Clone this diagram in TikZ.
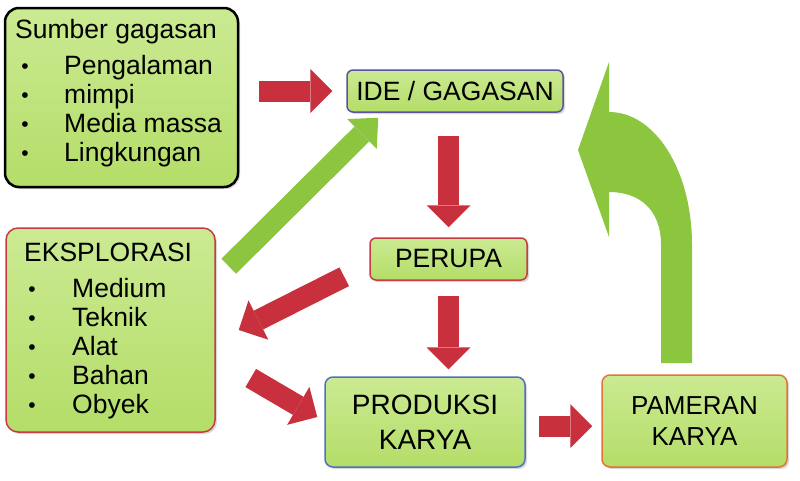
\documentclass[tikz,border=0pt]{standalone}
\usepackage{fontspec}
\setmainfont{Liberation Sans}
\usetikzlibrary{arrows.meta,calc,shadows}

\definecolor{boxgreen}{HTML}{B4DD68}
\definecolor{boxgreenlight}{HTML}{CBEA92}
\definecolor{arrowred}{HTML}{C8303E}
\definecolor{arrowgreen}{HTML}{8CC63F}
\definecolor{idepurple}{HTML}{5E52A0}
\definecolor{produksiblue}{HTML}{4F70C4}
\definecolor{pameranorange}{HTML}{E2743A}
\definecolor{boxred}{HTML}{C93A44}

\def\textsize{\fontsize{26.5}{29}\selectfont}

\begin{document}
\begin{tikzpicture}[x=1pt, y=-1pt,
  box/.style={rounded corners=6pt, line width=1.5pt, inner sep=0pt,
    top color=boxgreenlight, bottom color=boxgreen,
    drop shadow={opacity=0.3, shadow xshift=2pt, shadow yshift=-2pt},
    font=\textsize, align=center},
  redarrow/.style={arrowred, line width=21pt,
    -{Triangle[width=44pt,length=22pt,line width=0pt]}},
  greenarrow/.style={arrowgreen, line width=21pt,
    -{Triangle[width=42pt,length=23pt,line width=0pt]}},
  item/.style={anchor=base west, inner sep=0pt, font=\textsize},
  dot/.style={anchor=base, inner sep=0pt, font=\fontsize{21}{21}\selectfont}]
  \useasboundingbox (0,0) rectangle (800,480);

  % boxes
  \node[box, draw=black, line width=2.5pt, rounded corners=14pt, minimum width=233pt, minimum height=179pt] (sumber) at (121.5,97.5) {};
  \node[box, draw=boxred, rounded corners=12pt, minimum width=209pt, minimum height=204pt] (eksplor) at (110.5,330) {};
  \node[box, draw=idepurple, minimum width=216pt, minimum height=42pt] (ide) at (455,91) {IDE / GAGASAN};
  \node[box, draw=boxred, minimum width=157pt, minimum height=42pt] (perupa) at (448.5,259) {PERUPA};
  \node[box, draw=produksiblue, rounded corners=8pt, minimum width=200pt, minimum height=90pt,
    font=\fontsize{28}{35}\selectfont] (produksi) at (425,422) {PRODUKSI\\KARYA};
  \node[box, draw=pameranorange, rounded corners=8pt, minimum width=185pt, minimum height=92pt,
    font=\fontsize{26}{31}\selectfont] (pameran) at (694.5,421) {PAMERAN\\KARYA};

  % lists
  \node[item] (sumbertitle) at (15,38) {Sumber gagasan};
  \foreach \txt [count=\i] in {Pengalaman, mimpi, Media massa, Lingkungan}{
    \node[dot] (sdot\i) at (25,44+29*\i) {\textbullet};
    \node[item] (sitem\i) at (64,45+29*\i) {\txt};
  }
  \node[item] (eksplortitle) at (24,261) {EKSPLORASI};
  \foreach \txt [count=\i] in {Medium, Teknik, Alat, Bahan, Obyek}{
    \node[dot] (edot\i) at (32,267+29*\i) {\textbullet};
    \node[item] (eitem\i) at (72,268+29*\i) {\txt};
  }

  % arrows
  \draw[redarrow, shorten <=20pt, shorten >=14pt] (sumber.east |- ide.west) -- (ide.west);
  \draw[redarrow, shorten <=23pt, shorten >=10pt] (ide.south -| perupa.north) -- (perupa.north);
  \draw[redarrow, shorten <=15pt, shorten >=7pt] (perupa.south) -- (perupa.south |- produksi.north);
  \draw[redarrow] ($(perupa.south west)+(-25,-4)$) -- ($(eksplor.east)+(23,0)$);
  \draw[redarrow] ($(eksplor.east)+(35,48)$) -- ($(produksi.west)+(-7,-5)$);
  \draw[redarrow, shorten <=13pt, shorten >=9pt] ($(produksi.east)+(0,4)$) -- ($(pameran.west |- produksi.east)+(0,4)$);
  \draw[greenarrow] ($(eksplor.north east)+(13,39)$) -- ($(ide.south west)+(32,5)$);

  % bent arrow back up
  \fill[arrowgreen] (692,363) -- (692,245) .. controls (692,170) and (655,112) .. (609,112)
    -- (609,62) -- (578,150) -- (609,237) -- (609,192)
    .. controls (640,192) and (661,210) .. (661,245) -- (661,363) -- cycle;
\end{tikzpicture}
\end{document}
